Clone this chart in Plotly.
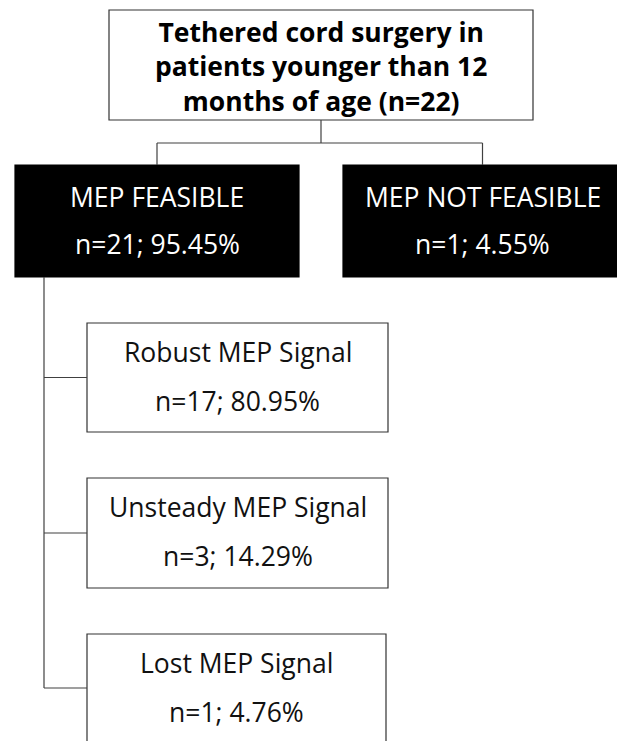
import plotly.graph_objects as go

# ---- data (text content) ----
root_lines = ["Tethered cord surgery in", "patients younger than 12", "months of age (n=22)"]
level1_names = ["MEP FEASIBLE", "MEP NOT FEASIBLE"]
level1_n = [21, 1]
level1_pct = [95.45, 4.55]
level2_names = ["Robust MEP Signal", "Unsteady MEP Signal", "Lost MEP Signal"]
level2_n = [17, 3, 1]
level2_pct = [80.95, 14.29, 4.76]

# ---- layout geometry (page pixels, y downward) ----
W, H = 625, 741
OFF = 8  # page body margin
root_box = (109, 10, 533, 120)
l1_boxes = [(15, 165, 299, 277), (343, 165, 622, 277)]
l2_boxes = [(87, 323, 388, 432), (87, 478, 388, 588), (87, 634, 386, 770)]
trunk_x = 44
FONT = "Open Sans"
LINE = "#404040"

shapes = []
annotations = []

def rect(b, fill, line_color):
    shapes.append(dict(type="rect", xref="x", yref="y", x0=b[0], y0=b[1], x1=b[2], y1=b[3],
                       fillcolor=fill, line=dict(color=line_color, width=1.2), layer="below"))

def seg(x0, y0, x1, y1):
    shapes.append(dict(type="line", xref="x", yref="y", x0=x0, y0=y0, x1=x1, y1=y1,
                       line=dict(color=LINE, width=1.2)))

def text(x, y, s, size, color, bold=False):
    annotations.append(dict(x=x, y=y, xref="x", yref="y", text=(f"<b>{s}</b>" if bold else s),
                            showarrow=False, xanchor="center", yanchor="middle", align="center",
                            font=dict(family=FONT, size=size, color=color)))

# root
rect(root_box, "white", "#333333")
cx = (root_box[0] + root_box[2]) / 2
text(cx, 66, "<br>".join(root_lines), 26.5, "black", bold=True)

# connectors root -> level1
mid_y = 143
centers = [(b[0] + b[2]) / 2 for b in l1_boxes]
seg(cx, root_box[3], cx, mid_y)
seg(centers[0], mid_y, centers[1], mid_y)
for c in centers:
    seg(c, mid_y, c, l1_boxes[0][1])

# level1 boxes
for b, name, n, p in zip(l1_boxes, level1_names, level1_n, level1_pct):
    rect(b, "black", "black")
    bx = (b[0] + b[2]) / 2
    text(bx, 197, name, 26.5, "white")
    text(bx, 244, f"n={n}; {p:.2f}%", 26.5, "white")

# trunk + level2
branch_y = [(b[1] + b[3]) / 2 for b in l2_boxes[:2]] + [688]
seg(trunk_x, l1_boxes[0][3], trunk_x, branch_y[-1])
for b, name, n, p, by in zip(l2_boxes, level2_names, level2_n, level2_pct, branch_y):
    rect(b, "white", "#333333")
    seg(trunk_x, by, b[0], by)
    bx = (b[0] + b[2]) / 2
    text(bx, b[1] + 29, name, 26.5, "#111111")
    text(bx, b[1] + 78, f"n={n}; {p:.2f}%", 26.5, "#111111")

fig = go.Figure()
fig.update_layout(
    width=W, height=H, margin=dict(l=0, r=0, t=0, b=0),
    paper_bgcolor="white", plot_bgcolor="white",
    xaxis=dict(range=[OFF, W + OFF], visible=False, fixedrange=True),
    yaxis=dict(range=[H + OFF, OFF], visible=False, fixedrange=True),
    shapes=shapes, annotations=annotations, showlegend=False,
)
fig.write_html("out.html")
